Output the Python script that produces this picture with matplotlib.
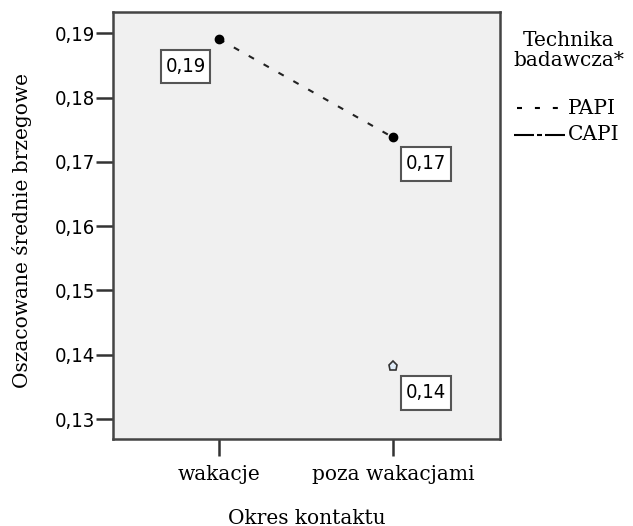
import matplotlib.pyplot as plt
from matplotlib.lines import Line2D
from matplotlib.path import Path

# data
categories = ['wakacje', 'poza wakacjami']
papi = [0.1891, 0.1738]
capi = [None, 0.1382]
yticks = [0.13, 0.14, 0.15, 0.16, 0.17, 0.18, 0.19]
legend_labels = ['PAPI', 'CAPI']
legend_title = ['Technika', 'badawcza*']

W, H = 633, 526
serif = ['DejaVu Serif']
sans = dict(family='DejaVu Sans', stretch='condensed')


def label_box(x0, y0, width, height, mutation_size):
    # box with more room above/below than at the sides
    px, py = 0.22 * mutation_size, 0.36 * mutation_size
    x0, y0 = x0 - px, y0 - py
    x1, y1 = x0 + width + 2 * px, y0 + height + 2 * py
    return Path([(x0, y0), (x1, y0), (x1, y1), (x0, y1), (x0, y0)], closed=True)


fig = plt.figure(figsize=(W / 100, H / 100), dpi=100)
ax = fig.add_axes([113 / W, 87 / H, 387 / W, 427 / H])
ax.set_facecolor('#f0f0f0')

papi_ls = (0, (2.9, 5.3))
capi_ls = (0, (9.6, 1.44, 2.4, 1.44))

x = list(range(len(categories)))
ax.plot(x, papi, linestyle=papi_ls, color='#222222', linewidth=1.5,
        marker='o', markersize=6, markerfacecolor='black', markeredgecolor='black')
cx = [i for i, v in zip(x, capi) if v is not None]
cy = [v for v in capi if v is not None]
ax.plot(cx, cy, linestyle=capi_ls, color='#222222', linewidth=1.5,
        marker='p', markersize=6.5, markeredgewidth=1.2,
        markerfacecolor='#e0ecf8', markeredgecolor='#333333')

box = dict(boxstyle=label_box, facecolor='white', edgecolor='#555555', linewidth=1.5)
ann = [(x[0], papi[0], -23.8, -19.8, '0,19'),
       (x[1], papi[1], 23.8, -19.1, '0,17'),
       (x[1], cy[0], 23.8, -19.1, '0,14')]
for px, py, dx, dy, s in ann:
    ax.annotate(s, (px, py), xytext=(dx, dy), textcoords='offset points',
                ha='center', va='center', fontsize=14.5, bbox=box, **sans)

ax.set_xlim(-0.609, 1.615)
ax.set_ylim(0.1269, 0.1933)
ax.set_xticks(x)
ax.set_xticklabels(categories, family=serif, fontsize=14.5)
ax.set_yticks(yticks)
ax.set_yticklabels([f'{t:.2f}'.replace('.', ',') for t in yticks], fontsize=14.5, **sans)
ax.tick_params(direction='out', length=12, width=1.8, color='#333333')
ax.tick_params(axis='y', pad=1)
ax.tick_params(axis='x', pad=7)
for s in ax.spines.values():
    s.set_linewidth(1.8)
    s.set_color('#444444')

fig.text(307 / W, 1 - 518 / H, 'Okres kontaktu', family=serif, fontsize=14.5,
         ha='center', va='center')
fig.text(22 / W, 1 - 230 / H, 'Oszacowane średnie brzegowe', family=serif, fontsize=14.5,
         rotation=90, ha='center', va='center')

# legend drawn by hand
for i, t in enumerate(legend_title):
    fig.text(569 / W, 1 - (40 + 21 * i) / H, t, family=serif, fontsize=14.5,
             ha='center', va='center')
handle_styles = [((0, (2.4, 6.2)), 517, 559), (capi_ls, 514, 566)]
for i, (lab, (ls, x0, x1)) in enumerate(zip(legend_labels, handle_styles)):
    yy = 1 - (108 + 27 * i) / H
    fig.add_artist(Line2D([x0 / W, x1 / W], [yy, yy], transform=fig.transFigure,
                          linestyle=ls, color='black', linewidth=1.5))
    fig.text(568 / W, yy, lab, family=serif, fontsize=14.5, ha='left', va='center')

fig.savefig('out.png', dpi=100)
